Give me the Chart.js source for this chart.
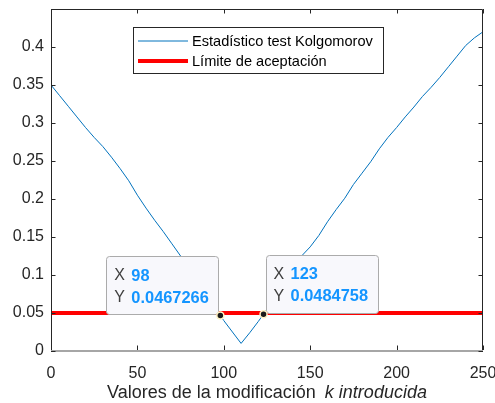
<!DOCTYPE html>
<html>
<head>
<meta charset="utf-8">
<script src="https://cdn.jsdelivr.net/npm/chart.js@4.4.0/dist/chart.umd.min.js"></script>
<style>
  body { margin: 0; background: #fff; }
  #wrap { width: 495px; height: 403px; }
</style>
</head>
<body>
<div id="wrap"><canvas id="ksChart" width="495" height="403"></canvas></div>
<script>
// valores
var kValues = [0, 5, 10, 15, 20, 25, 30, 35, 40, 45, 50, 55, 60, 65, 70, 75, 80, 85, 90, 95, 98,
  100, 105, 110, 115, 120, 123, 125, 130, 135, 140, 145, 150, 155, 160, 165, 170, 175, 180,
  185, 190, 195, 200, 205, 210, 215, 220, 225, 230, 235, 240, 245, 250];
var ksStat = [0.350, 0.336, 0.322, 0.308, 0.294, 0.281, 0.269, 0.255, 0.240, 0.224, 0.205,
  0.188, 0.172, 0.157, 0.141, 0.125, 0.108, 0.091, 0.074, 0.057, 0.0467266,
  0.040, 0.025, 0.010, 0.024, 0.039, 0.0484758, 0.055, 0.072, 0.090, 0.108, 0.125, 0.137,
  0.152, 0.170, 0.186, 0.201, 0.219, 0.234, 0.249, 0.266, 0.281, 0.294, 0.308, 0.321,
  0.335, 0.347, 0.360, 0.374, 0.388, 0.402, 0.412, 0.420];
var limitK = [0, 250];
var limitVal = [0.05, 0.05];
var tipK = [98, 123];
var tipVal = [0.0467266, 0.0484758];
var xTicks = [0, 50, 100, 150, 200, 250];
var yTicks = [0, 0.05, 0.1, 0.15, 0.2, 0.25, 0.3, 0.35, 0.4];
var seriesNames = ['Estadístico test Kolgomorov', 'Límite de aceptación'];

var FONT = '"Liberation Sans", Arial, Helvetica, sans-serif';
var AX = '#262626';

function pts(xs, ys) {
  var out = [];
  for (var i in xs) out.push({x: xs[i], y: ys[i]});
  return out;
}

function roundRect(ctx, x, y, w, h, r) {
  ctx.beginPath();
  ctx.moveTo(x + r, y);
  ctx.lineTo(x + w - r, y);
  ctx.arcTo(x + w, y, x + w, y + r, r);
  ctx.lineTo(x + w, y + h - r);
  ctx.arcTo(x + w, y + h, x + w - r, y + h, r);
  ctx.lineTo(x + r, y + h);
  ctx.arcTo(x, y + h, x, y + h - r, r);
  ctx.lineTo(x, y + r);
  ctx.arcTo(x, y, x + r, y, r);
  ctx.closePath();
}

// caja, marcas hacia dentro, leyenda, datatips y titulo del eje x
const matlabLook = {
  id: 'matlabLook',
  afterDraw: function(chart) {
    var ctx = chart.ctx, ca = chart.chartArea;
    var xs = chart.scales.x, ys = chart.scales.y;
    ctx.save();

    // bordes
    ctx.lineWidth = 1;
    ctx.strokeStyle = AX;
    ctx.beginPath();
    ctx.moveTo(ca.left + 0.5, ca.bottom);
    ctx.lineTo(ca.left + 0.5, ca.top + 0.5);
    ctx.lineTo(ca.right - 0.5, ca.top + 0.5);
    ctx.lineTo(ca.right - 0.5, ca.bottom);
    ctx.stroke();
    ctx.strokeStyle = '#a6a6a6';
    ctx.lineWidth = 2;
    ctx.beginPath();
    ctx.moveTo(ca.left, ca.bottom);
    ctx.lineTo(ca.right, ca.bottom);
    ctx.stroke();

    // marcas
    ctx.strokeStyle = AX;
    ctx.lineWidth = 1;
    var tl = 4.5;
    ctx.beginPath();
    xTicks.forEach(function(v) {
      var px = Math.round(xs.getPixelForValue(v)) + 0.5;
      ctx.moveTo(px, ca.bottom - 1); ctx.lineTo(px, ca.bottom - 1 - tl);
      ctx.moveTo(px, ca.top); ctx.lineTo(px, ca.top + tl);
    });
    yTicks.forEach(function(v) {
      var py = Math.round(ys.getPixelForValue(v)) + 0.5;
      ctx.moveTo(ca.left, py); ctx.lineTo(ca.left + tl, py);
      ctx.moveTo(ca.right, py); ctx.lineTo(ca.right - tl, py);
    });
    ctx.stroke();

    // leyenda
    var lx = 133.5, ly = 27.5, lw = 250, lh = 46;
    ctx.fillStyle = '#fff';
    ctx.fillRect(lx, ly, lw, lh);
    ctx.strokeStyle = AX;
    ctx.lineWidth = 1;
    ctx.strokeRect(lx, ly, lw, lh);
    var dsets = chart.data.datasets;
    var rows = [41, 61];
    ctx.font = '14.6px ' + FONT;
    ctx.textBaseline = 'middle';
    ctx.textAlign = 'left';
    for (var i = 0; i < 2; i++) {
      ctx.strokeStyle = dsets[i].borderColor;
      ctx.lineWidth = dsets[i].borderWidth;
      ctx.beginPath();
      ctx.moveTo(138, rows[i]);
      ctx.lineTo(188, rows[i]);
      ctx.stroke();
      ctx.fillStyle = '#000';
      ctx.fillText(seriesNames[i], 192, rows[i] + 0.5);
    }

    // datatips
    var bw = 112, bh = 58;
    for (var j = 0; j < tipK.length; j++) {
      var px = xs.getPixelForValue(tipK[j]);
      var py = ys.getPixelForValue(tipVal[j]);
      var bx = j === 0 ? px - 2 - bw : px + 2;
      var by = py - 1 - bh;
      roundRect(ctx, Math.round(bx) + 0.5, Math.round(by) + 0.5, bw, bh, 3);
      ctx.fillStyle = '#f8f8fc';
      ctx.fill();
      ctx.strokeStyle = '#ababab';
      ctx.lineWidth = 1;
      ctx.stroke();

      ctx.textBaseline = 'middle';
      ctx.font = '16px ' + FONT;
      ctx.fillStyle = '#404040';
      ctx.fillText('X', bx + 8, by + bh - 38.5);
      ctx.fillText('Y', bx + 8, by + bh - 16.5);
      ctx.font = 'bold 16.4px ' + FONT;
      ctx.fillStyle = '#1495ff';
      ctx.fillText(String(tipK[j]), bx + 25, by + bh - 38.5);
      ctx.fillText(String(tipVal[j]), bx + 25, by + bh - 16.5);

      ctx.beginPath();
      ctx.arc(px, py, 3.5, 0, Math.PI * 2);
      ctx.fillStyle = '#1a1a1a';
      ctx.fill();
      ctx.strokeStyle = '#fff3c4';
      ctx.lineWidth = 1.5;
      ctx.stroke();
    }

    // titulo del eje x (parte en cursiva)
    var t1 = 'Valores de la modificación', t2 = 'k introducida';
    var fs = '18px ';
    ctx.font = fs + FONT;
    var w1 = ctx.measureText(t1).width;
    ctx.font = 'italic ' + fs + FONT;
    var w2 = ctx.measureText(t2).width;
    var gap = 9;
    var sx = (ca.left + ca.right) / 2 - (w1 + gap + w2) / 2;
    ctx.textBaseline = 'alphabetic';
    ctx.fillStyle = AX;
    ctx.font = fs + FONT;
    ctx.fillText(t1, sx, 398);
    ctx.font = 'italic ' + fs + FONT;
    ctx.fillText(t2, sx + w1 + gap, 398);

    ctx.restore();
  }
};

const data = {
  datasets: [{
    label: seriesNames[0],
    data: pts(kValues, ksStat),
    borderColor: '#0072BD',
    borderWidth: 1,
    pointRadius: 0,
    fill: false,
    order: 1
  }, {
    label: seriesNames[1],
    data: pts(limitK, limitVal),
    borderColor: '#FF0000',
    borderWidth: 4,
    pointRadius: 0,
    fill: false,
    order: 0
  }]
};

const config = {
  type: 'line',
  data,
  options: {
    responsive: false,
    animation: false,
    layout: { padding: 0 },
    plugins: { legend: { display: false }, tooltip: { enabled: false } },
    scales: {
      x: {
        type: 'linear', min: 0, max: 250,
        grid: { display: false, drawTicks: false }, border: { display: false },
        afterBuildTicks: function(s) { s.ticks = xTicks.map(function(v) { return {value: v}; }); },
        afterFit: function(s) { s.height = 52; s.paddingLeft = 0; s.paddingRight = 12; },
        ticks: {
          padding: 13, maxRotation: 0, color: AX,
          font: { size: 16, family: FONT },
          callback: function(v) { return String(v); }
        }
      },
      y: {
        type: 'linear', min: 0, max: 0.45,
        grid: { display: false, drawTicks: false }, border: { display: false },
        afterBuildTicks: function(s) { s.ticks = yTicks.map(function(v) { return {value: v}; }); },
        afterFit: function(s) { s.width = 51; s.paddingTop = 9; s.paddingBottom = 0; },
        ticks: {
          padding: 7, color: AX,
          font: { size: 16, family: FONT },
          callback: function(v) { return String(v); }
        }
      }
    }
  },
  plugins: [matlabLook]
};

var myChart = new Chart(document.getElementById('ksChart'), config);
</script>
</body>
</html>
